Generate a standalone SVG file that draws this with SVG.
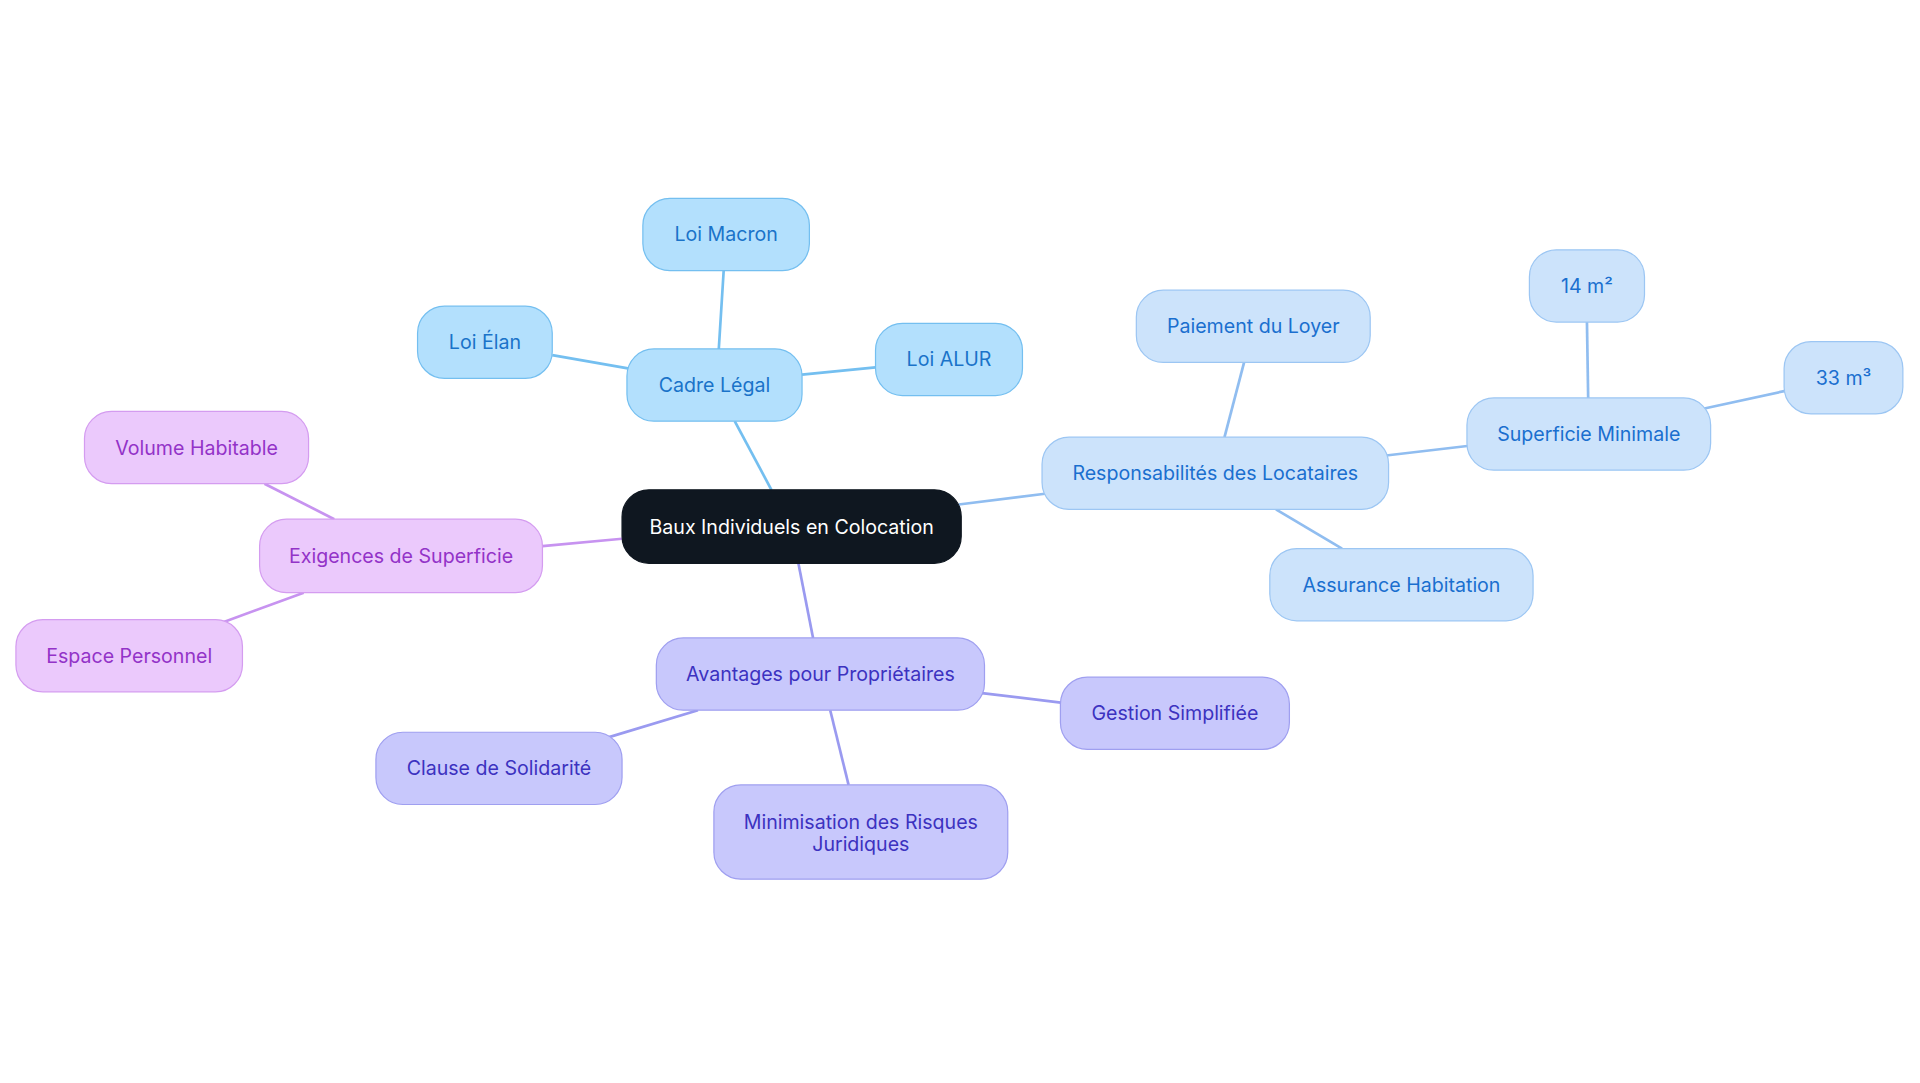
<svg xmlns="http://www.w3.org/2000/svg" width="1920" height="1083" viewBox="0 0 1920 1083">
<style>
text{font-family:Inter,"Noto Sans",sans-serif;font-size:16px;text-anchor:middle;dominant-baseline:central}
.c rect{fill:#b3e0fd;stroke:#74bff0;stroke-width:1}.c text{fill:#1a73c9}
.r rect{fill:#cce3fb;stroke:#9cc6f3;stroke-width:1}.r text{fill:#1a6fcf}
.a rect{fill:#c8c8fc;stroke:#9f9ff0;stroke-width:1}.a text{fill:#3c32c0}
.e rect{fill:#ebc9fc;stroke:#d49cf0;stroke-width:1}.e text{fill:#9333c8}
#edges line{stroke-width:2.2}
.lc{stroke:#74bff0}.lr{stroke:#90bdf0}.la{stroke:#9a9af0}.le{stroke:#c793f0}
</style>
<rect width="1920" height="1083" fill="#fff"/>
<g transform="scale(1.2245)">
<g id="edges">
<line class="lc" x1="630" y1="400" x2="600" y2="344"/>
<line class="lc" x1="587" y1="285" x2="591" y2="221"/>
<line class="lc" x1="514" y1="301" x2="451" y2="290"/>
<line class="lc" x1="655" y1="306" x2="715" y2="300"/>
<line class="lr" x1="783" y1="412" x2="855" y2="403"/>
<line class="lr" x1="1000" y1="357" x2="1016" y2="296"/>
<line class="lr" x1="1042" y1="416" x2="1096" y2="448"/>
<line class="lr" x1="1132" y1="372" x2="1200" y2="364"/>
<line class="lr" x1="1297" y1="325" x2="1296" y2="263"/>
<line class="lr" x1="1390" y1="334" x2="1459" y2="319"/>
<line class="la" x1="652" y1="460" x2="664" y2="521"/>
<line class="la" x1="802" y1="566" x2="868" y2="574"/>
<line class="la" x1="570" y1="580" x2="494" y2="603"/>
<line class="la" x1="678" y1="580" x2="693" y2="641"/>
<line class="le" x1="508" y1="440" x2="443" y2="446"/>
<line class="le" x1="273" y1="424" x2="216" y2="395"/>
<line class="le" x1="248" y1="484" x2="180" y2="509"/>
</g>
<g id="root"><rect x="508" y="400" width="277" height="60" rx="22" fill="#0f1720" stroke="#0f1720"/><text x="646.5" y="430" fill="#fff">Baux Individuels en Colocation</text></g>
<g id="cadre" class="c"><rect x="512" y="285" width="143" height="59" rx="22"/><text x="583.5" y="314.5">Cadre Légal</text></g>
<g id="macron" class="c"><rect x="525" y="162" width="136" height="59" rx="22"/><text x="593" y="191.5">Loi Macron</text></g>
<g id="elan" class="c"><rect x="341" y="250" width="110" height="59" rx="22"/><text x="396" y="279.5">Loi Élan</text></g>
<g id="alur" class="c"><rect x="715" y="264" width="120" height="59" rx="22"/><text x="775" y="293.5">Loi ALUR</text></g>
<g id="resp" class="r"><rect x="851" y="357" width="283" height="59" rx="22"/><text x="992.5" y="386.5">Responsabilités des Locataires</text></g>
<g id="paiement" class="r"><rect x="928" y="237" width="191" height="59" rx="22"/><text x="1023.5" y="266.5">Paiement du Loyer</text></g>
<g id="assurance" class="r"><rect x="1037" y="448" width="215" height="59" rx="22"/><text x="1144.5" y="477.5">Assurance Habitation</text></g>
<g id="superficie" class="r"><rect x="1198" y="325" width="199" height="59" rx="22"/><text x="1297.5" y="354.5">Superficie Minimale</text></g>
<g id="m2" class="r"><rect x="1249" y="204" width="94" height="59" rx="22"/><text x="1296" y="233.5">14 m²</text></g>
<g id="m3" class="r"><rect x="1457" y="279" width="97" height="59" rx="22"/><text x="1505.5" y="308.5">33 m³</text></g>
<g id="avantages" class="a"><rect x="536" y="521" width="268" height="59" rx="22"/><text x="670" y="550.5">Avantages pour Propriétaires</text></g>
<g id="gestion" class="a"><rect x="866" y="553" width="187" height="59" rx="22"/><text x="959.5" y="582.5">Gestion Simplifiée</text></g>
<g id="clause" class="a"><rect x="307" y="598" width="201" height="59" rx="22"/><text x="407.5" y="627.5">Clause de Solidarité</text></g>
<g id="risques" class="a"><rect x="583" y="641" width="240" height="77" rx="22"/><text x="703" y="671">Minimisation des Risques</text><text x="703" y="689">Juridiques</text></g>
<g id="exigences" class="e"><rect x="212" y="424" width="231" height="60" rx="22"/><text x="327.5" y="454">Exigences de Superficie</text></g>
<g id="volume" class="e"><rect x="69" y="336" width="183" height="59" rx="22"/><text x="160.5" y="365.5">Volume Habitable</text></g>
<g id="espace" class="e"><rect x="13" y="506" width="185" height="59" rx="22"/><text x="105.5" y="535.5">Espace Personnel</text></g>
</g>
</svg>
